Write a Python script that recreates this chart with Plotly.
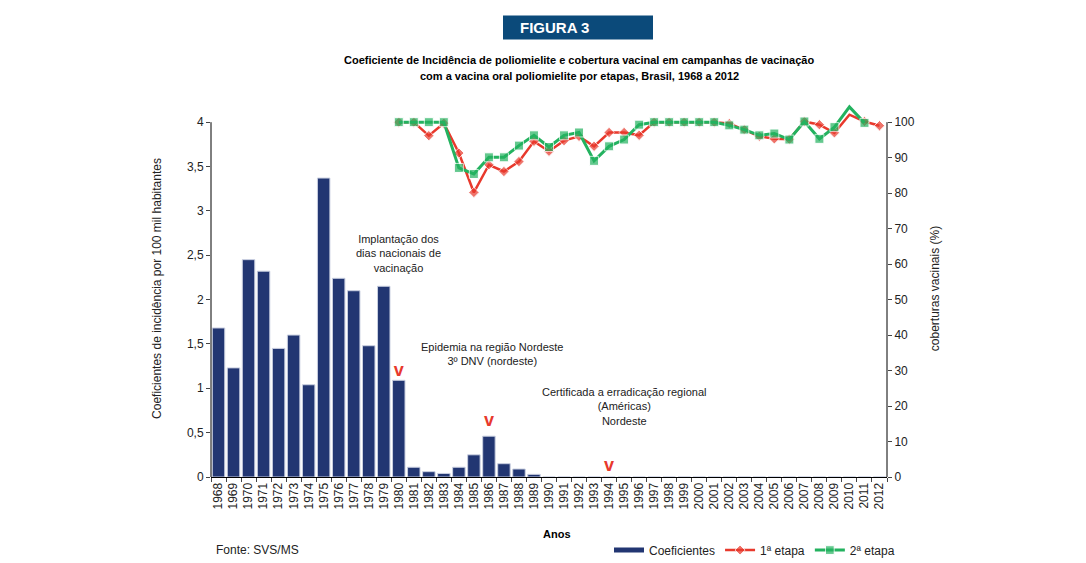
import plotly.graph_objects as go

# ---------------- data ----------------
years = [str(y) for y in range(1968, 2013)]
coeficientes = [1.68, 1.23, 2.45, 2.32, 1.45, 1.60, 1.04, 3.37, 2.24, 2.10,
                1.48, 2.15, 1.09, 0.11, 0.06, 0.04, 0.11, 0.25, 0.46, 0.15,
                0.09, 0.03, 0, 0, 0, 0, 0, 0, 0, 0,
                0, 0, 0, 0, 0, 0, 0, 0, 0, 0,
                0, 0, 0, 0, 0]

line_years = [str(y) for y in range(1980, 2013)]
etapa1 = [100, 100, 96.2, 99.7, 91.3, 80.2, 88.0, 86.1, 88.9, 94.6,
          91.8, 94.8, 96.0, 93.2, 97.1, 97.1, 96.3, 100, 100, 100,
          100, 100, 99.6, 97.9, 96.0, 95.3, 95.2, 100.2, 99.3, 97.0,
          102.1, 100.2, 99.0]
etapa2 = [100, 100, 100, 100, 87.1, 85.4, 90.1, 90.1, 93.4, 96.3,
          93.0, 96.3, 97.1, 89.1, 93.2, 95.1, 99.3, 100, 100, 100,
          100, 100, 99.1, 97.9, 96.3, 96.8, 95.1, 100.2, 95.3, 98.6,
          104.3, 99.8, None]

event_years = ["1980", "1986", "1994"]
event_levels = [1.19, 0.63, 0.12]

y_ticks_left = [0, 0.5, 1, 1.5, 2, 2.5, 3, 3.5, 4]
y_ticks_right = [0, 10, 20, 30, 40, 50, 60, 70, 80, 90, 100]

# ---------------- style / layout geometry ----------------
FONT = "Liberation Sans, Arial, sans-serif"
NAVY = "#223672"
RED = "#E8392C"
GREEN = "#23B25F"

OFF = 8                     # page body margin of the html page
W, H = 1086 - 2 * OFF, 563 - OFF
# page-pixel geometry of the plot area
PAGE_LEFT, PAGE_RIGHT = 211, 887
PAGE_ZERO, PAGE_FOUR = 477, 122.5
LEFT_MAX = 4.25
unit = (PAGE_ZERO - PAGE_FOUR) / 4.0
PAGE_TOP = PAGE_ZERO - LEFT_MAX * unit

L = PAGE_LEFT - OFF
R = W - (PAGE_RIGHT - OFF)
T = PAGE_TOP - OFF
B = H - (PAGE_ZERO - OFF)
PW, PH = W - L - R, H - T - B


def px(x):
    return (x - OFF - L) / PW


def py(y):
    return (H - B - (y - OFF)) / PH


red_sizes = [8] * len(line_years)
green_sizes = [9] * len(line_years)
red_sizes[line_years.index("2010")] = 0
green_sizes[line_years.index("2010")] = 0

fig = go.Figure()
fig.add_trace(go.Bar(
    x=years, y=coeficientes, name="Coeficientes", showlegend=False,
    marker=dict(color=NAVY, line=dict(color="#c9cfe0", width=1)),
))
# legend proxy for bars
fig.add_trace(go.Scatter(
    x=[years[0]], y=[None], mode="lines", name="Coeficientes",
    line=dict(color=NAVY, width=5),
))
fig.add_trace(go.Scatter(
    x=line_years, y=etapa1, name="1ª etapa", yaxis="y2", mode="lines+markers",
    line=dict(color=RED, width=2.5),
    marker=dict(symbol="diamond", size=red_sizes, color=RED),
    cliponaxis=False,
))
fig.add_trace(go.Scatter(
    x=line_years, y=etapa2, name="2ª etapa", yaxis="y2", mode="lines+markers",
    line=dict(color=GREEN, width=3),
    marker=dict(symbol="square", size=green_sizes, color=GREEN),
    cliponaxis=False,
))
fig.add_trace(go.Scatter(
    x=event_years, y=event_levels, mode="text", text=["<b>v</b>"] * 3,
    textfont=dict(color=RED, size=18, family=FONT), showlegend=False,
    textposition="middle center", hoverinfo="skip",
))

annotations = [
    dict(x=px(398), y=py(254), text="Implantação dos<br>dias nacionais de<br>vacinação"),
    dict(x=px(492), y=py(354.5), text="Epidemia na região Nordeste<br>3º DNV (nordeste)"),
    dict(x=px(624), y=py(407), text="Certificada a erradicação regional<br>(Américas)<br>Nordeste"),
]
for a in annotations:
    a.update(xref="paper", yref="paper", showarrow=False, xanchor="center",
             yanchor="middle", align="center", font=dict(size=11, color="#222", family=FONT))

annotations += [
    dict(x=px(518), y=py(28), xref="paper", yref="paper", showarrow=False,
         text="<b>FIGURA 3</b>", xanchor="left", yanchor="middle",
         font=dict(size=15, color="white", family=FONT)),
    dict(x=px(579), y=py(60), xref="paper", yref="paper", showarrow=False,
         text="<b>Coeficiente de Incidência de poliomielite e cobertura vacinal em campanhas de vacinação</b>",
         xanchor="center", yanchor="middle",
         font=dict(size=11, color="black", family=FONT)),
    dict(x=px(579), y=py(76), xref="paper", yref="paper", showarrow=False,
         text="<b>com a vacina oral poliomielite por etapas, Brasil, 1968 a 2012</b>",
         xanchor="center", yanchor="middle",
         font=dict(size=11, color="black", family=FONT)),
    dict(x=px(557), y=py(534), xref="paper", yref="paper", showarrow=False,
         text="<b>Anos</b>", xanchor="center", yanchor="middle",
         font=dict(size=11, color="black", family=FONT)),
    dict(x=px(214), y=py(550), xref="paper", yref="paper", showarrow=False,
         text="Fonte: SVS/MS", xanchor="left", yanchor="middle",
         font=dict(size=12, color="#222", family=FONT)),
]

shapes = [
    dict(type="rect", xref="paper", yref="paper", x0=px(503), x1=px(653),
         y0=py(40), y1=py(16), fillcolor="#0B4A7A", line=dict(width=0), layer="below"),
    # y axis lines (only up to the top tick)
    dict(type="line", xref="paper", yref="y", x0=0, x1=0, y0=0, y1=4,
         line=dict(color="black", width=1)),
    dict(type="line", xref="paper", yref="y", x0=1, x1=1, y0=0, y1=4,
         line=dict(color="black", width=1)),
]

fig.update_layout(
    width=W, height=H,
    margin=dict(l=L, r=R, t=T, b=B, autoexpand=False),
    paper_bgcolor="white", plot_bgcolor="white",
    font=dict(family=FONT, size=12, color="#222"),
    separators=",.",
    bargap=0.17,
    showlegend=True,
    legend=dict(orientation="h", x=px(609), y=py(550), xanchor="left", yanchor="middle",
                font=dict(size=12, family=FONT), bgcolor="rgba(0,0,0,0)",
                traceorder="normal"),
    xaxis=dict(type="category", range=[-0.5, len(years) - 0.5], tickangle=-90,
               ticks="outside", tickson="boundaries",
               ticklen=4, showline=True, linecolor="black", linewidth=1,
               showgrid=False, tickfont=dict(size=12), fixedrange=True),
    yaxis=dict(range=[0, LEFT_MAX], tickvals=y_ticks_left, ticks="outside", ticklen=4,
               showline=False, showgrid=False, zeroline=False,
               tickfont=dict(size=12),
               title=dict(text="Coeficientes de incidência por 100 mil habitantes",
                          font=dict(size=12), standoff=22)),
    yaxis2=dict(range=[0, LEFT_MAX * 25], tickvals=y_ticks_right, overlaying="y", side="right",
                ticks="outside", ticklen=4, showline=False,
                showgrid=False, zeroline=False, tickfont=dict(size=12),
                title=dict(text="coberturas vacinais (%)", font=dict(size=12), standoff=16)),
    shapes=shapes,
    annotations=annotations,
)

fig.write_html("out.html")
